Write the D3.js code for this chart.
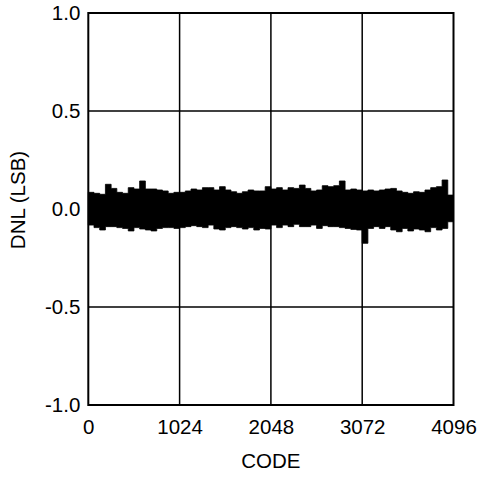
<!DOCTYPE html>
<html>
<head>
<meta charset="utf-8">
<script src="https://cdn.jsdelivr.net/npm/d3@7"></script>
<style>
  body { margin: 0; background: #fff; }
  text { font-family: "Liberation Sans", Arial, sans-serif; fill: #000; }
</style>
</head>
<body>
<svg id="graph" width="480" height="480"></svg>
<script>
// tick labels
var codeTicks = [0, 1024, 2048, 3072, 4096];
var dnlTicks = [-1.0, -0.5, 0.0, 0.5, 1.0];

// DNL envelope, one value per 64-code bin
var binSize = 64;
var dnlUpper = [
  0.085, 0.080, 0.075, 0.126, 0.105, 0.085, 0.080, 0.109,
  0.102, 0.143, 0.102, 0.102, 0.097, 0.092, 0.080, 0.085,
  0.085, 0.092, 0.102, 0.097, 0.109, 0.109, 0.097, 0.114,
  0.097, 0.088, 0.080, 0.088, 0.097, 0.092, 0.092, 0.114,
  0.102, 0.109, 0.097, 0.109, 0.105, 0.122, 0.105, 0.092,
  0.097, 0.119, 0.114, 0.119, 0.143, 0.097, 0.102, 0.097,
  0.092, 0.097, 0.092, 0.097, 0.102, 0.105, 0.092, 0.085,
  0.080, 0.088, 0.085, 0.097, 0.109, 0.114, 0.148, 0.071
];
var dnlLower = [
  -0.082, -0.095, -0.107, -0.090, -0.090, -0.095, -0.099, -0.112,
  -0.095, -0.102, -0.107, -0.112, -0.099, -0.095, -0.095, -0.099,
  -0.095, -0.090, -0.085, -0.090, -0.095, -0.082, -0.102, -0.107,
  -0.095, -0.090, -0.095, -0.102, -0.095, -0.107, -0.099, -0.102,
  -0.082, -0.095, -0.082, -0.090, -0.078, -0.090, -0.090, -0.082,
  -0.099, -0.085, -0.090, -0.090, -0.095, -0.099, -0.104, -0.107,
  -0.175, -0.099, -0.090, -0.099, -0.090, -0.107, -0.116, -0.099,
  -0.112, -0.102, -0.107, -0.116, -0.095, -0.107, -0.099, -0.065
];

var margin = { top: 13, left: 88.3 }
  , width = 365.2
  , height = 392;

var svg = d3.select("#graph")
  .append("g")
  .attr("transform", "translate(" + margin.left + "," + margin.top + ")");

var xScale = d3.scaleLinear().domain([0, 4096]).range([0, width]);
var yScale = d3.scaleLinear().domain([-1, 1]).range([height, 0]);

// grid lines
svg.selectAll(".vgrid")
  .data(codeTicks.slice(1, -1))
  .enter().append("line")
  .attr("x1", function (d) { return xScale(d); })
  .attr("x2", function (d) { return xScale(d); })
  .attr("y1", 0).attr("y2", height)
  .attr("stroke", "#000").attr("stroke-width", 1.5);

svg.selectAll(".hgrid")
  .data(dnlTicks.slice(1, -1))
  .enter().append("line")
  .attr("x1", 0).attr("x2", width)
  .attr("y1", function (d) { return yScale(d); })
  .attr("y2", function (d) { return yScale(d); })
  .attr("stroke", "#000").attr("stroke-width", 1.5);

// the DNL band
var band = dnlUpper.map(function (u, i) {
  return { code: i * binSize, hi: u, lo: dnlLower[i] };
});
band.push({ code: 4096, hi: dnlUpper[dnlUpper.length - 1], lo: dnlLower[dnlLower.length - 1] });

var area = d3.area()
  .x(function (d) { return xScale(d.code); })
  .y0(function (d) { return yScale(d.lo); })
  .y1(function (d) { return yScale(d.hi); })
  .curve(d3.curveStepAfter);

svg.append("path")
  .datum(band)
  .attr("d", area)
  .attr("fill", "#000")
  .attr("stroke", "#000")
  .attr("stroke-width", 0.8);

// frame
svg.append("rect")
  .attr("width", width).attr("height", height)
  .attr("fill", "none").attr("stroke", "#000").attr("stroke-width", 2);

// axes (labels only)
var xAxis = svg.append("g")
  .attr("transform", "translate(0," + height + ")")
  .call(d3.axisBottom(xScale).tickValues(codeTicks).tickSize(0).tickPadding(14)
    .tickFormat(function (d) { return String(d); }));
xAxis.select(".domain").remove();
xAxis.selectAll("text").attr("font-size", "20.5px")
  .style("font-family", "'Liberation Sans', Arial, sans-serif");

var yAxis = svg.append("g")
  .call(d3.axisLeft(yScale).tickValues(dnlTicks).tickSize(0).tickPadding(8)
    .tickFormat(function (d) { return d.toFixed(1); }));
yAxis.select(".domain").remove();
yAxis.selectAll("text").attr("font-size", "20.5px")
  .style("font-family", "'Liberation Sans', Arial, sans-serif");

// titles
svg.append("text")
  .attr("x", width / 2).attr("y", 455)
  .attr("text-anchor", "middle")
  .attr("font-size", "20.5px")
  .text("CODE");

svg.append("text")
  .attr("transform", "translate(" + (25 - margin.left) + "," + (200 - margin.top) + ") rotate(-90)")
  .attr("text-anchor", "middle")
  .attr("font-size", "20.5px")
  .text("DNL (LSB)");
</script>
</body>
</html>
